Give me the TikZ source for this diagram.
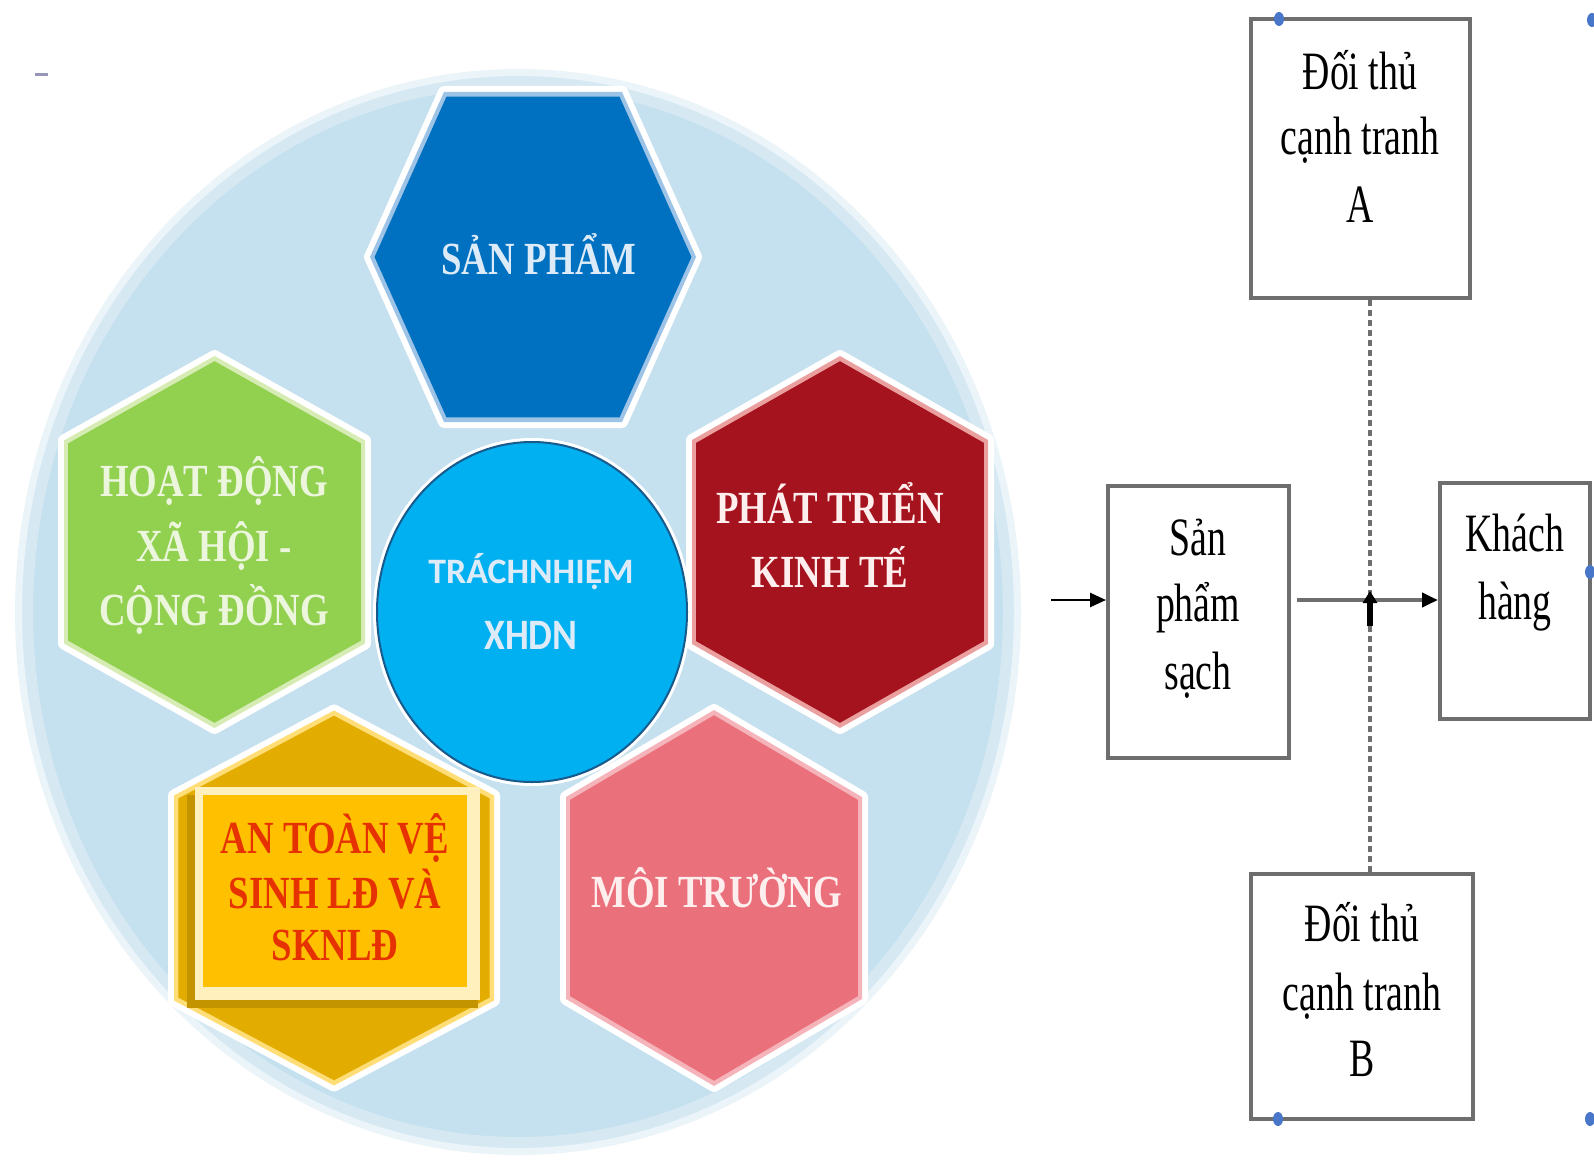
\documentclass[tikz,border=0pt]{standalone}
\usepackage{fontspec}
\setmainfont{Liberation Serif}
\newfontfamily\hexfont[FakeStretch=0.8]{Liberation Serif}
\newfontfamily\boxfont[FakeStretch=0.7]{Liberation Serif}
\newfontfamily\circfont{Carlito}
\usetikzlibrary{arrows.meta,calc}

\definecolor{bgblue}{RGB}{197,224,239}
\definecolor{hexblue}{RGB}{0,112,192}
\definecolor{hexbluelt}{RGB}{157,195,230}
\definecolor{hexgreen}{RGB}{146,208,80}
\definecolor{hexgreenlt}{RGB}{214,236,180}
\definecolor{hexred}{RGB}{165,20,30}
\definecolor{hexredlt}{RGB}{235,160,160}
\definecolor{hexgold}{RGB}{226,172,0}
\definecolor{hexgoldlt}{RGB}{255,222,120}
\definecolor{goldsq}{RGB}{255,192,0}
\definecolor{goldcream}{RGB}{255,240,190}
\definecolor{goldshadow}{RGB}{196,148,0}
\definecolor{hexpink}{RGB}{234,112,124}
\definecolor{hexpinklt}{RGB}{245,180,185}
\definecolor{ctrblue}{RGB}{0,176,240}
\definecolor{ctredge}{RGB}{25,90,140}
\definecolor{txtred}{RGB}{230,50,0}
\definecolor{txtblue}{RGB}{220,235,247}
\definecolor{txtgreen}{RGB}{235,246,220}
\definecolor{txtpink}{RGB}{255,238,238}
\definecolor{boxline}{RGB}{110,110,110}
\definecolor{handle}{RGB}{72,118,200}
\definecolor{dashmark}{RGB}{150,150,185}

% vertical-pointed hexagon: cx, cy, half width, point half height, shoulder half height, main, light
\newcommand\drawvhex[7]{%
  \begin{scope}[shift={(#1,#2)}]
    \draw[white, line width=6pt, line join=round] (0,-#4) -- (#3,-#5) -- (#3,#5) -- (0,#4) -- (-#3,#5) -- (-#3,-#5) -- cycle;
    \fill[#7] (0,-#4) -- (#3,-#5) -- (#3,#5) -- (0,#4) -- (-#3,#5) -- (-#3,-#5) -- cycle;
    \begin{scope}[scale=0.972]
      \fill[#6] (0,-#4) -- (#3,-#5) -- (#3,#5) -- (0,#4) -- (-#3,#5) -- (-#3,-#5) -- cycle;
    \end{scope}
  \end{scope}}
% horizontal-pointed hexagon: cx, cy, point half width, edge half width, half height, main, light
\newcommand\drawhhex[7]{%
  \begin{scope}[shift={(#1,#2)}]
    \draw[white, line width=6pt, line join=round] (-#3,0) -- (-#4,-#5) -- (#4,-#5) -- (#3,0) -- (#4,#5) -- (-#4,#5) -- cycle;
    \fill[#7] (-#3,0) -- (-#4,-#5) -- (#4,-#5) -- (#3,0) -- (#4,#5) -- (-#4,#5) -- cycle;
    \begin{scope}[scale=0.972]
      \fill[#6] (-#3,0) -- (-#4,-#5) -- (#4,-#5) -- (#3,0) -- (#4,#5) -- (-#4,#5) -- cycle;
    \end{scope}
  \end{scope}}

\tikzset{
  hextext/.style={font=\hexfont\bfseries\fontsize{23}{28}\selectfont, anchor=base, inner sep=0pt},
  boxtext/.style={font=\boxfont\fontsize{27}{32}\selectfont, anchor=base, inner sep=0pt, text=black},
  boxnode/.style={draw=boxline, line width=2pt, fill=white, rectangle, inner sep=0pt},
  inarrow/.style={black, line width=1.3pt, -{Triangle[length=8pt,width=7pt]}},
  flowarrow/.style={boxline, line width=2pt, -{Triangle[length=8pt,width=7pt,color=black]}},
  dashline/.style={boxline, line width=1.6pt, dash pattern=on 3pt off 2pt},
  handledot/.style={fill=handle}
}

\begin{document}
\begin{tikzpicture}[x=0.5pt,y=-0.5pt]
\useasboundingbox (0,0) rectangle (1594,1161);
\fill[white] (0,0) rectangle (1594,1161);

% small mark top-left
\draw[dashmark, line width=1.5pt] (35,75) -- (48,75);

% big background ellipse
\fill[bgblue] (518,612) ellipse [x radius=503, y radius=543];
\draw[white, opacity=0.3, line width=18pt] (518,612) ellipse [x radius=503, y radius=543];
\draw[white, opacity=0.5, line width=7pt] (518,612) ellipse [x radius=503, y radius=543];

% hexagons
\drawhhex{533}{257}{163}{89}{165}{hexblue}{hexbluelt}
\drawvhex{214.5}{542}{150.5}{186}{101.5}{hexgreen}{hexgreenlt}
\drawvhex{840}{542}{148}{186}{102}{hexred}{hexredlt}
\drawvhex{334}{898}{160}{187.5}{102.5}{hexgold}{hexgoldlt}
\drawvhex{714}{898}{148}{188}{101}{hexpink}{hexpinklt}

% gold square
\fill[goldshadow] (187,795) rectangle (478,1008);
\fill[goldcream] (195,787) rectangle (480,1000);
\fill[goldsq] (203,795) rectangle (467,987);

% centre circle
\draw[white, line width=4pt] (532,612) ellipse [x radius=155, y radius=170];
\draw[ctredge, line width=1pt, fill=ctrblue] (532,612) ellipse [x radius=155, y radius=170];

% hexagon texts
\node[hextext, text=txtblue] (tsp) at (539,274) {SẢN PHẨM};
\node[hextext, text=txtgreen] (tg1) at (214,496) {HOẠT ĐỘNG};
\node[hextext, text=txtgreen] (tg2) at (214,561) {XÃ HỘI -};
\node[hextext, text=txtgreen] (tg3) at (214,625) {CỘNG ĐỒNG};
\node[hextext, text=txtpink] (tr1) at (830,523) {PHÁT TRIỂN};
\node[hextext, text=txtpink] (tr2) at (830,587) {KINH TẾ};
\node[hextext, text=txtred] (ty1) at (335,853) {AN TOÀN VỆ};
\node[hextext, text=txtred] (ty2) at (335,908) {SINH LĐ VÀ};
\node[hextext, text=txtred] (ty3) at (335,960) {SKNLĐ};
\node[hextext, text=txtpink] (tpk) at (717,907) {MÔI TRƯỜNG};
\node[font=\circfont\bfseries\fontsize{17.9}{20}\selectfont, text=txtblue, anchor=base, inner sep=0pt] (tc1) at (531,583.5) {TRÁCHNHIỆM};
\node[font=\circfont\bfseries\fontsize{21.7}{24}\selectfont, text=txtblue, anchor=base, inner sep=0pt, xscale=0.87] (tc2) at (531,649) {XHDN};

% right-hand flow diagram
\node[boxnode, minimum width=109.5pt, minimum height=139.5pt] (A) at (1360.5,158.5) {};
\node[boxnode, minimum width=90.5pt, minimum height=136pt] (S) at (1198.5,622) {};
\node[boxnode, minimum width=75pt, minimum height=118pt] (K) at (1515,601) {};
\node[boxnode, minimum width=111pt, minimum height=122.5pt] (B) at (1362,996.5) {};

\node[boxtext] (a1) at (1360,90) {Đối thủ};
\node[boxtext] (a2) at (1360,155) {cạnh tranh};
\node[boxtext] (a3) at (1360,222) {A};
\node[boxtext] (b1) at (1362,941) {Đối thủ};
\node[boxtext] (b2) at (1362,1010) {cạnh tranh};
\node[boxtext] (b3) at (1362,1076) {B};
\node[boxtext] (s1) at (1198,555) {Sản};
\node[boxtext] (s2) at (1198,621) {phẩm};
\node[boxtext] (s3) at (1198,689) {sạch};
\node[boxtext] (k1) at (1515,551) {Khách};
\node[boxtext] (k2) at (1515,619) {hàng};

\coordinate (inS) at (1051,600);
\draw[inarrow] (inS) -- (inS -| S.west);
\coordinate (outS) at (1297,600);
\draw[flowarrow] (outS) -- (outS -| K.west);
\coordinate (mid) at (1370,600);
\coordinate (midlow) at (1370,626);
\coordinate (midtip) at (1370,591);
\draw[dashline] (mid |- A.south) -- (mid);
\draw[dashline] (mid |- B.north) -- (midlow);
\draw[black, line width=3pt, -{Triangle[length=6pt,width=7pt]}] (midlow) -- (midtip);

% selection handles
\fill[handledot] (1279,19) ellipse [x radius=5, y radius=7];
\fill[handledot] (1592,20) ellipse [x radius=5, y radius=7];
\fill[handledot] (1590,572) ellipse [x radius=5, y radius=7];
\fill[handledot] (1278,1119) ellipse [x radius=5, y radius=7];
\fill[handledot] (1590,1119) ellipse [x radius=5, y radius=7];
\end{tikzpicture}
\end{document}
